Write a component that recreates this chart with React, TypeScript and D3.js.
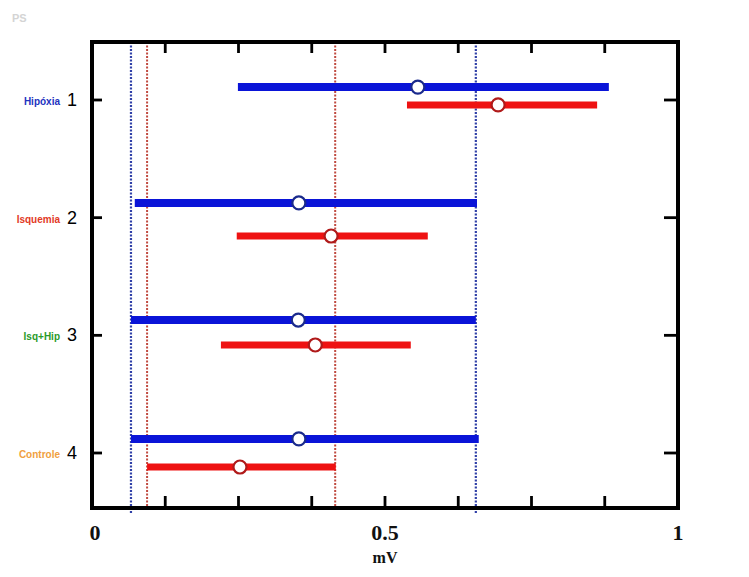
import React from "react";
import * as d3 from "d3";

const categories = ["Hipóxia", "Isquemia", "Isq+Hip", "Controle"];
const categoryColors = ["#2233c0", "#e23a26", "#2a9a2a", "#f0a040"];
const rowLabels = ["1", "2", "3", "4"];
const rowPositions = [1, 2, 3, 4];

const blueLow = [0.249, 0.073, 0.0665, 0.0665];
const blueHigh = [0.882, 0.657, 0.655, 0.66];
const blueMid = [0.556, 0.353, 0.352, 0.353];
const blueRow = [0.89, 1.875, 2.87, 3.88];

const redLow = [0.5375, 0.247, 0.22, 0.094];
const redHigh = [0.862, 0.573, 0.544, 0.416];
const redMid = [0.693, 0.408, 0.381, 0.2525];
const redRow = [1.042, 2.156, 3.082, 4.119];

const blueRefs = [0.0665, 0.655];
const redRefs = [0.094, 0.415];

const xTicks = [0.125, 0.25, 0.375, 0.5, 0.625, 0.75, 0.875];
const xTickLabels = [0, 0.5, 1];

const W = 749;
const H = 577;
const left = 92, right = 678, top = 42, bottom = 508;

export default function App() {
  const x = d3.scaleLinear().domain([0, 1]).range([left, right]);
  const y = d3.scaleLinear().domain([1, 4]).range([100, 453]);

  const blueColor = "#0a14d8";
  const redColor = "#ee1212";

  return (
    <svg
      width={W}
      height={H}
      style={{ position: "absolute", left: 0, top: 0, background: "#fff" }}
    >
      <text x={12} y={22} fontFamily="Arial, 'Liberation Sans', sans-serif" fontSize={11} fontWeight="bold" fill="#d4d4d4">PS</text>

      {/* reference dotted lines */}
      {blueRefs.map((v, i) => (
        <line key={"br" + i} x1={x(v)} x2={x(v)} y1={top} y2={bottom + 6}
          stroke="#3040a8" strokeWidth={2.2} strokeDasharray="2,1.5" />
      ))}
      {redRefs.map((v, i) => (
        <line key={"rr" + i} x1={x(v)} x2={x(v)} y1={top} y2={bottom + 2}
          stroke="#c04a40" strokeWidth={2} strokeDasharray="2,1.5" />
      ))}

      {/* bars */}
      {categories.map((c, i) => (
        <g key={"g" + i}>
          <line x1={x(blueLow[i])} x2={x(blueHigh[i])} y1={y(blueRow[i])} y2={y(blueRow[i])}
            stroke={blueColor} strokeWidth={8} />
          <line x1={x(redLow[i])} x2={x(redHigh[i])} y1={y(redRow[i])} y2={y(redRow[i])}
            stroke={redColor} strokeWidth={7} />
          <circle cx={x(blueMid[i])} cy={y(blueRow[i])} r={6.5} fill="#fff" stroke="#1a2a8c" strokeWidth={2.2} />
          <circle cx={x(redMid[i])} cy={y(redRow[i])} r={6.5} fill="#fff" stroke="#b01a1a" strokeWidth={2.2} />
        </g>
      ))}

      {/* frame */}
      <rect x={left} y={top} width={right - left} height={bottom - top} fill="none" stroke="#000" strokeWidth={4} />

      {/* x ticks */}
      {xTicks.map((t, i) => (
        <g key={"xt" + i}>
          <line x1={x(t)} x2={x(t)} y1={bottom} y2={bottom - 12} stroke="#000" strokeWidth={2.8} />
          <line x1={x(t)} x2={x(t)} y1={top} y2={top + 11} stroke="#000" strokeWidth={2.8} />
        </g>
      ))}
      {xTickLabels.map((t, i) => (
        <text key={"xl" + i} x={x(t) + (t === 0 ? 3 : 0)} y={540} textAnchor="middle"
          fontFamily="'Liberation Serif', 'Times New Roman', serif" fontSize={22} fontWeight="bold" fill="#111">
          {String(t)}
        </text>
      ))}
      <text x={x(0.5)} y={563} textAnchor="middle"
        fontFamily="'Liberation Serif', 'Times New Roman', serif" fontSize={16} fontWeight="bold" fill="#111">mV</text>

      {/* y ticks and labels */}
      {rowPositions.map((p, i) => (
        <g key={"yt" + i}>
          <line x1={left} x2={left + 10} y1={y(p)} y2={y(p)} stroke="#000" strokeWidth={2.8} />
          <line x1={right} x2={right - 14} y1={y(p)} y2={y(p)} stroke="#000" strokeWidth={2.8} />
          <text x={72} y={y(p) + 6} textAnchor="middle"
            fontFamily="Arial, 'Liberation Sans', sans-serif" fontSize={18} fill="#000">{rowLabels[i]}</text>
          <text x={60} y={y(p) + 5} textAnchor="end"
            fontFamily="Arial, 'Liberation Sans', sans-serif" fontSize={10} fontWeight="bold" fill={categoryColors[i]}>{categories[i]}</text>
        </g>
      ))}
    </svg>
  );
}
